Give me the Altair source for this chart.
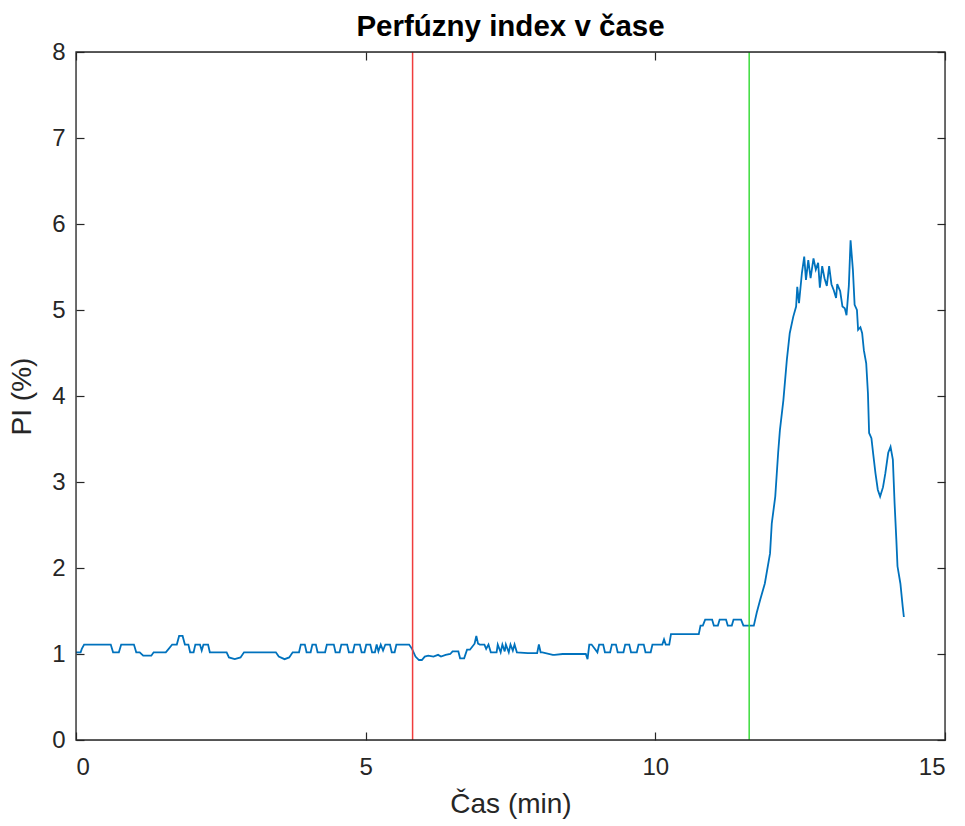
import altair as alt
import pandas as pd

# Perfusion index (PI, %) sampled over time (minutes); rows of both lists line up
time_min = [
    0.00, 0.08, 0.10, 0.14, 0.60, 0.64, 0.74, 0.78, 1.00, 1.04, 1.10, 1.16, 1.30, 1.34,
    1.55, 1.60, 1.66, 1.74, 1.78, 1.84, 1.88, 1.94, 1.97, 2.03, 2.06, 2.14, 2.17, 2.20,
    2.28, 2.31, 2.60, 2.64, 2.74, 2.84, 2.90, 3.20, 3.45, 3.50, 3.60, 3.68, 3.74, 3.85,
    3.88, 3.95, 3.98, 4.05, 4.08, 4.14, 4.17, 4.30, 4.33, 4.45, 4.48, 4.55, 4.58, 4.68,
    4.71, 4.78, 4.81, 4.90, 4.93, 4.98, 5.01, 5.08, 5.11, 5.16, 5.19, 5.22, 5.26, 5.30,
    5.34, 5.42, 5.45, 5.50, 5.53, 5.75, 5.80, 5.86, 5.92, 5.97, 6.02, 6.08, 6.17, 6.25,
    6.30, 6.38, 6.46, 6.50, 6.60, 6.63, 6.70, 6.75, 6.80, 6.88, 6.91, 6.94, 6.97, 7.05,
    7.08, 7.12, 7.16, 7.26, 7.28, 7.33, 7.36, 7.40, 7.42, 7.47, 7.50, 7.54, 7.57, 7.61,
    7.80, 7.96, 7.99, 8.02, 8.05, 8.23, 8.26, 8.40, 8.43, 8.80, 8.83, 8.86, 8.90, 9.00,
    9.03, 9.10, 9.13, 9.22, 9.25, 9.32, 9.35, 9.45, 9.48, 9.55, 9.58, 9.68, 9.71, 9.80,
    9.83, 9.92, 9.95, 10.12, 10.15, 10.18, 10.24, 10.27, 10.75, 10.78, 10.82, 10.86, 10.98,
    11.01, 11.08, 11.11, 11.22, 11.25, 11.32, 11.35, 11.48, 11.52, 11.70, 11.75, 11.81,
    11.89, 11.98, 12.01, 12.07, 12.12, 12.15, 12.21, 12.27, 12.32, 12.38, 12.43, 12.45,
    12.48, 12.53, 12.57, 12.60, 12.64, 12.68, 12.73, 12.77, 12.81, 12.84, 12.88, 12.92,
    12.96, 13.00, 13.04, 13.08, 13.12, 13.14, 13.19, 13.23, 13.27, 13.30, 13.34, 13.37,
    13.41, 13.44, 13.48, 13.50, 13.54, 13.57, 13.60, 13.64, 13.67, 13.69, 13.73, 13.76,
    13.80, 13.84, 13.88, 13.93, 13.97, 14.02, 14.06, 14.10, 14.13, 14.16, 14.18, 14.23,
    14.27, 14.29,
]
pi_pct = [
    1.02, 1.02, 1.06, 1.11, 1.11, 1.02, 1.02, 1.11, 1.11, 1.02, 1.02, 0.98, 0.98, 1.02,
    1.02, 1.06, 1.11, 1.11, 1.21, 1.21, 1.11, 1.11, 1.02, 1.02, 1.11, 1.11, 1.04, 1.11,
    1.11, 1.02, 1.02, 0.96, 0.94, 0.96, 1.02, 1.02, 1.02, 0.97, 0.94, 0.96, 1.02, 1.02,
    1.11, 1.11, 1.02, 1.02, 1.11, 1.11, 1.02, 1.02, 1.11, 1.11, 1.02, 1.02, 1.11, 1.11,
    1.02, 1.02, 1.11, 1.11, 1.02, 1.02, 1.11, 1.11, 1.02, 1.02, 1.11, 1.03, 1.11, 1.04,
    1.11, 1.11, 1.02, 1.02, 1.11, 1.11, 1.06, 0.97, 0.93, 0.93, 0.97, 0.98, 0.97, 0.99,
    0.97, 0.99, 1.00, 1.03, 1.03, 0.95, 0.95, 1.05, 1.05, 1.12, 1.21, 1.12, 1.11, 1.11,
    1.06, 1.11, 1.02, 1.02, 1.11, 1.02, 1.11, 1.03, 1.11, 1.02, 1.11, 1.04, 1.11, 1.02,
    1.01, 1.01, 1.11, 1.02, 1.02, 0.99, 0.99, 1.00, 1.00, 1.00, 0.94, 1.11, 1.11, 1.02,
    1.11, 1.11, 1.02, 1.02, 1.11, 1.11, 1.02, 1.02, 1.11, 1.11, 1.02, 1.02, 1.11, 1.11,
    1.02, 1.02, 1.11, 1.11, 1.17, 1.11, 1.11, 1.23, 1.23, 1.33, 1.33, 1.40, 1.40,
    1.33, 1.33, 1.40, 1.40, 1.33, 1.33, 1.40, 1.40, 1.33, 1.33, 1.48, 1.63,
    1.82, 2.17, 2.52, 2.83, 3.34, 3.60, 3.95, 4.42, 4.73, 4.92, 5.04, 5.27,
    5.08, 5.43, 5.62, 5.35, 5.58, 5.37, 5.60, 5.47, 5.55, 5.26, 5.51, 5.37,
    5.28, 5.51, 5.30, 5.23, 5.14, 5.30, 5.22, 5.04, 5.02, 4.94, 5.28, 5.81,
    5.47, 5.06, 5.00, 4.77, 4.80, 4.73, 4.53, 4.38, 4.03, 3.57, 3.51, 3.33,
    3.10, 2.91, 2.83, 2.94, 3.10, 3.34, 3.41, 3.26, 2.75, 2.33, 2.02, 1.82,
    1.55, 1.43,
]

# Event markers (minutes)
event_times = [5.81, 11.62]
event_names = ["start", "end"]
event_colors = ["#f03c3c", "#3cdc3c"]

x_ticks = [0, 5, 10, 15]
y_ticks = [0, 1, 2, 3, 4, 5, 6, 7, 8]
x_limits = [0, 15]
y_limits = [0, 8]

series = pd.DataFrame({"t": time_min, "pi": pi_pct})
events = pd.DataFrame({"t": event_times, "name": event_names})
box = pd.DataFrame({"x0": [x_limits[0]], "x1": [x_limits[1]], "y0": [y_limits[0]], "y1": [y_limits[1]]})

FONT = "Liberation Sans"
INK = "#262626"

x_scale = alt.Scale(domain=x_limits, nice=False, zero=False)
y_scale = alt.Scale(domain=y_limits, nice=False)

# Inward ticks: pull each axis into the plot by the tick length
tick_common = dict(
    domain=False, grid=False, ticks=True, tickSize=8, offset=-8,
    tickColor=INK, tickWidth=1.2,
)

x_bottom = alt.Axis(
    orient="bottom", values=x_ticks, title="Čas (min)", labelPadding=15,
    labelFontSize=24, labelFont=FONT, labelColor=INK, titleFont=FONT,
    titleFontSize=28, titleFontWeight="normal", titleColor=INK, titlePadding=11,
    **tick_common,
)
y_left = alt.Axis(
    orient="left", values=y_ticks, title="PI (%)", labelPadding=11,
    labelFontSize=24, labelFont=FONT, labelColor=INK, titleFont=FONT,
    titleFontSize=28, titleFontWeight="normal", titleColor=INK, titlePadding=15,
    **tick_common,
)
x_top = alt.Axis(orient="top", values=x_ticks, labels=False, title=None, **tick_common)
y_right = alt.Axis(orient="right", values=y_ticks, labels=False, title=None, **tick_common)

line = alt.Chart(series).mark_line(color="#0072BD", strokeWidth=1.8).encode(
    x=alt.X("t:Q", scale=x_scale, axis=x_bottom),
    y=alt.Y("pi:Q", scale=y_scale, axis=y_left),
)

mirror = alt.Chart(series).mark_point(opacity=0).encode(
    x=alt.X("t:Q", scale=x_scale, axis=x_top),
    y=alt.Y("pi:Q", scale=y_scale, axis=y_right),
)

markers = alt.Chart(events).mark_rule(strokeWidth=1.5).encode(
    x=alt.X("t:Q", scale=x_scale, axis=None),
    color=alt.Color("name:N", scale=alt.Scale(domain=event_names, range=event_colors), legend=None),
)

# Axes box around the plot area
frame = alt.Chart(box).mark_rect(fill="transparent", stroke=INK, strokeWidth=1.3).encode(
    x=alt.X("x0:Q", scale=x_scale, axis=None),
    x2="x1:Q",
    y=alt.Y("y0:Q", scale=y_scale, axis=None),
    y2="y1:Q",
)

chart = (
    alt.layer(line, markers, frame, mirror)
    .resolve_axis(x="independent", y="independent")
    .properties(
        width=869,
        height=688,
        autosize=alt.AutoSizeParams(type="none"),
        padding={"left": 76, "top": 52, "right": 20, "bottom": 86},
        title=alt.TitleParams(
            "Perfúzny index v čase", font=FONT, fontSize=29.5, fontWeight="bold",
            color="#000000", offset=-2, anchor="middle",
        ),
    )
    .configure_view(stroke=None)
    .configure(background="white")
)

chart.save("out.html", embed_options={"renderer": "svg", "actions": False})
